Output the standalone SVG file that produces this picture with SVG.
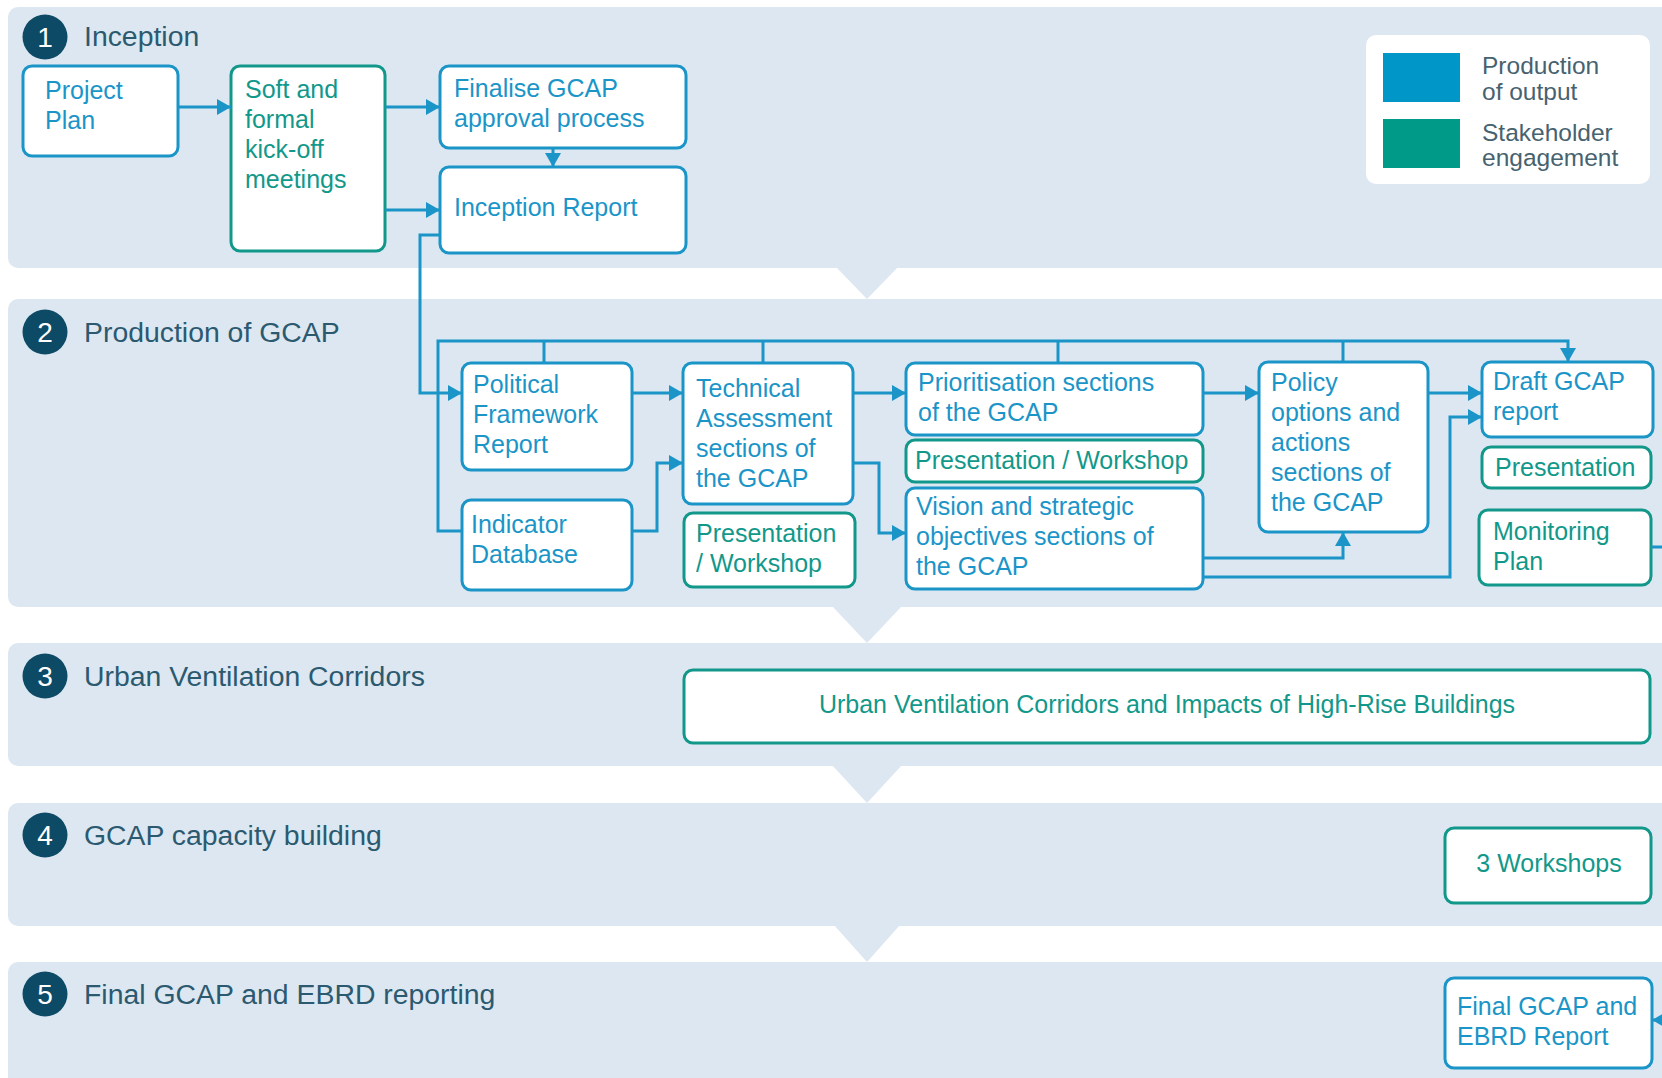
<svg xmlns="http://www.w3.org/2000/svg" width="1662" height="1078" viewBox="0 0 1662 1078">
  <style>
    .band { fill: #dde7f1; }
    .num { fill: #0d4a66; }
    .numt { fill: #ffffff; font-family: "Liberation Sans", Arial, sans-serif; font-size: 28px; text-anchor: middle; }
    .head { fill: #2b5a70; font-family: "Liberation Sans", Arial, sans-serif; font-size: 28.4px; }
    .nb rect { fill: #ffffff; stroke: #1b95c8; stroke-width: 3; }
    .ng rect { fill: #ffffff; stroke: #12988a; stroke-width: 3; }
    .nb text { fill: #1b95c8; font-family: "Liberation Sans", Arial, sans-serif; font-size: 25px; }
    .ng text { fill: #12988a; font-family: "Liberation Sans", Arial, sans-serif; font-size: 25px; }
    .conn path { fill: none; stroke: #1b95c8; stroke-width: 3; }
    .leg { fill: #47626f; font-family: "Liberation Sans", Arial, sans-serif; font-size: 24.5px; }
  </style>
  <defs>
    <marker id="arr" markerUnits="userSpaceOnUse" markerWidth="16" markerHeight="16" refX="14" refY="8" orient="auto">
      <path d="M0,0 L14,8 L0,16 z" fill="#1b95c8"/>
    </marker>
  </defs>

  <rect width="1662" height="1078" fill="#ffffff"/>

  <!-- phase bands -->
  <g id="bands">
    <rect class="band" x="8" y="7" width="1700" height="261" rx="10"/>
    <polygon class="band" points="836,267 898,267 867,299"/>
    <rect class="band" x="8" y="299" width="1700" height="308" rx="10"/>
    <polygon class="band" points="832,606 902,606 867,643"/>
    <rect class="band" x="8" y="643" width="1700" height="123" rx="10"/>
    <polygon class="band" points="832,765 902,765 867,803"/>
    <rect class="band" x="8" y="803" width="1700" height="123" rx="10"/>
    <polygon class="band" points="834,925 900,925 867,962"/>
    <rect class="band" x="8" y="962" width="1700" height="140" rx="10"/>
  </g>

  <!-- phase headings -->
  <g id="phase1">
    <circle class="num" cx="45" cy="37" r="22.5"/>
    <text class="numt" x="45" y="47">1</text>
    <text class="head" x="84" y="46">Inception</text>
  </g>
  <g id="phase2">
    <circle class="num" cx="45" cy="332" r="22.5"/>
    <text class="numt" x="45" y="342">2</text>
    <text class="head" x="84" y="342">Production of GCAP</text>
  </g>
  <g id="phase3">
    <circle class="num" cx="45" cy="676" r="22.5"/>
    <text class="numt" x="45" y="686">3</text>
    <text class="head" x="84" y="686">Urban Ventilation Corridors</text>
  </g>
  <g id="phase4">
    <circle class="num" cx="45" cy="835" r="22.5"/>
    <text class="numt" x="45" y="845">4</text>
    <text class="head" x="84" y="845">GCAP capacity building</text>
  </g>
  <g id="phase5">
    <circle class="num" cx="45" cy="994" r="22.5"/>
    <text class="numt" x="45" y="1004">5</text>
    <text class="head" x="84" y="1004">Final GCAP and EBRD reporting</text>
  </g>

  <!-- legend -->
  <g id="legend">
    <rect x="1366" y="35" width="284" height="149" rx="10" fill="#ffffff"/>
    <rect x="1383" y="53" width="77" height="49" fill="#0096c8"/>
    <rect x="1383" y="119" width="77" height="49" fill="#009a89"/>
    <text class="leg" x="1482" y="74">Production</text>
    <text class="leg" x="1482" y="100">of output</text>
    <text class="leg" x="1482" y="141">Stakeholder</text>
    <text class="leg" x="1482" y="166">engagement</text>
  </g>

  <!-- phase 1 nodes -->
  <g id="project-plan" class="nb">
    <rect x="23" y="66" width="155" height="90" rx="9"/>
    <text><tspan x="45" y="99">Project</tspan><tspan x="45" y="129">Plan</tspan></text>
  </g>
  <g id="kick-off" class="ng">
    <rect x="231" y="66" width="154" height="185" rx="9"/>
    <text><tspan x="245" y="98">Soft and</tspan><tspan x="245" y="128">formal</tspan><tspan x="245" y="158">kick-off</tspan><tspan x="245" y="188">meetings</tspan></text>
  </g>
  <g id="approval" class="nb">
    <rect x="440" y="66" width="246" height="82" rx="9"/>
    <text><tspan x="454" y="97">Finalise GCAP</tspan><tspan x="454" y="127">approval process</tspan></text>
  </g>
  <g id="inception-report" class="nb">
    <rect x="440" y="167" width="246" height="86" rx="9"/>
    <text x="454" y="216">Inception Report</text>
  </g>

  <!-- phase 2 nodes -->
  <g id="political" class="nb">
    <rect x="462" y="363" width="170" height="107" rx="9"/>
    <text><tspan x="473" y="393">Political</tspan><tspan x="473" y="423">Framework</tspan><tspan x="473" y="453">Report</tspan></text>
  </g>
  <g id="indicator" class="nb">
    <rect x="462" y="500" width="170" height="90" rx="9"/>
    <text><tspan x="471" y="533">Indicator</tspan><tspan x="471" y="563">Database</tspan></text>
  </g>
  <g id="technical" class="nb">
    <rect x="683" y="363" width="170" height="141" rx="9"/>
    <text><tspan x="696" y="397">Technical</tspan><tspan x="696" y="427">Assessment</tspan><tspan x="696" y="457">sections of</tspan><tspan x="696" y="487">the GCAP</tspan></text>
  </g>
  <g id="technical-workshop" class="ng">
    <rect x="684" y="513" width="171" height="74" rx="9"/>
    <text><tspan x="696" y="542">Presentation</tspan><tspan x="696" y="572">/ Workshop</tspan></text>
  </g>
  <g id="prioritisation" class="nb">
    <rect x="906" y="363" width="297" height="72" rx="9"/>
    <text><tspan x="918" y="391">Prioritisation sections</tspan><tspan x="918" y="421">of the GCAP</tspan></text>
  </g>
  <g id="prioritisation-workshop" class="ng">
    <rect x="906" y="440" width="297" height="42" rx="9"/>
    <text x="915" y="469">Presentation / Workshop</text>
  </g>
  <g id="vision" class="nb">
    <rect x="906" y="488" width="297" height="101" rx="9"/>
    <text><tspan x="916" y="515">Vision and strategic</tspan><tspan x="916" y="545">objectives sections of</tspan><tspan x="916" y="575">the GCAP</tspan></text>
  </g>
  <g id="policy" class="nb">
    <rect x="1259" y="362" width="169" height="170" rx="9"/>
    <text><tspan x="1271" y="391">Policy</tspan><tspan x="1271" y="421">options and</tspan><tspan x="1271" y="451">actions</tspan><tspan x="1271" y="481">sections of</tspan><tspan x="1271" y="511">the GCAP</tspan></text>
  </g>
  <g id="draft" class="nb">
    <rect x="1482" y="362" width="171" height="75" rx="9"/>
    <text><tspan x="1493" y="390">Draft GCAP</tspan><tspan x="1493" y="420">report</tspan></text>
  </g>
  <g id="draft-presentation" class="ng">
    <rect x="1482" y="447" width="169" height="41" rx="9"/>
    <text x="1495" y="476">Presentation</text>
  </g>
  <g id="monitoring" class="ng">
    <rect x="1479" y="510" width="172" height="75" rx="9"/>
    <text><tspan x="1493" y="540">Monitoring</tspan><tspan x="1493" y="570">Plan</tspan></text>
  </g>

  <!-- phase 3 node -->
  <g id="ventilation" class="ng">
    <rect x="684" y="670" width="966" height="73" rx="9"/>
    <text x="1167" y="713" text-anchor="middle" font-size="24.6">Urban Ventilation Corridors and Impacts of High-Rise Buildings</text>
  </g>

  <!-- phase 4 node -->
  <g id="workshops" class="ng">
    <rect x="1445" y="828" width="206" height="75" rx="9"/>
    <text x="1549" y="872" text-anchor="middle" font-size="24.5">3 Workshops</text>
  </g>

  <!-- phase 5 node -->
  <g id="final-report" class="nb">
    <rect x="1445" y="978" width="207" height="90" rx="9"/>
    <text><tspan x="1457" y="1015">Final GCAP and</tspan><tspan x="1457" y="1045">EBRD Report</tspan></text>
  </g>

  <!-- connectors -->
  <g id="connectors" class="conn">
    <path d="M178,107 H231" marker-end="url(#arr)"/>
    <path d="M385,107 H440" marker-end="url(#arr)"/>
    <path d="M385,210 H440" marker-end="url(#arr)"/>
    <path d="M553,148 V167" marker-end="url(#arr)"/>
    <path d="M440,235 H420 V393 H462" marker-end="url(#arr)"/>
    <path d="M462,531 H438 V341 H1568 V362" marker-end="url(#arr)"/>
    <path d="M544,363 V341"/>
    <path d="M763,363 V341"/>
    <path d="M1058,363 V341"/>
    <path d="M1343,362 V341"/>
    <path d="M632,393 H683" marker-end="url(#arr)"/>
    <path d="M632,531 H657 V463 H683" marker-end="url(#arr)"/>
    <path d="M853,393 H906" marker-end="url(#arr)"/>
    <path d="M853,463 H879 V533 H906" marker-end="url(#arr)"/>
    <path d="M1203,393 H1259" marker-end="url(#arr)"/>
    <path d="M1203,558 H1343 V532" marker-end="url(#arr)"/>
    <path d="M1428,393 H1482" marker-end="url(#arr)"/>
    <path d="M1203,577 H1450 V417 H1482" marker-end="url(#arr)"/>
    <path d="M1651,547 H1690 V1020 H1652" marker-end="url(#arr)"/>
  </g>
</svg>
